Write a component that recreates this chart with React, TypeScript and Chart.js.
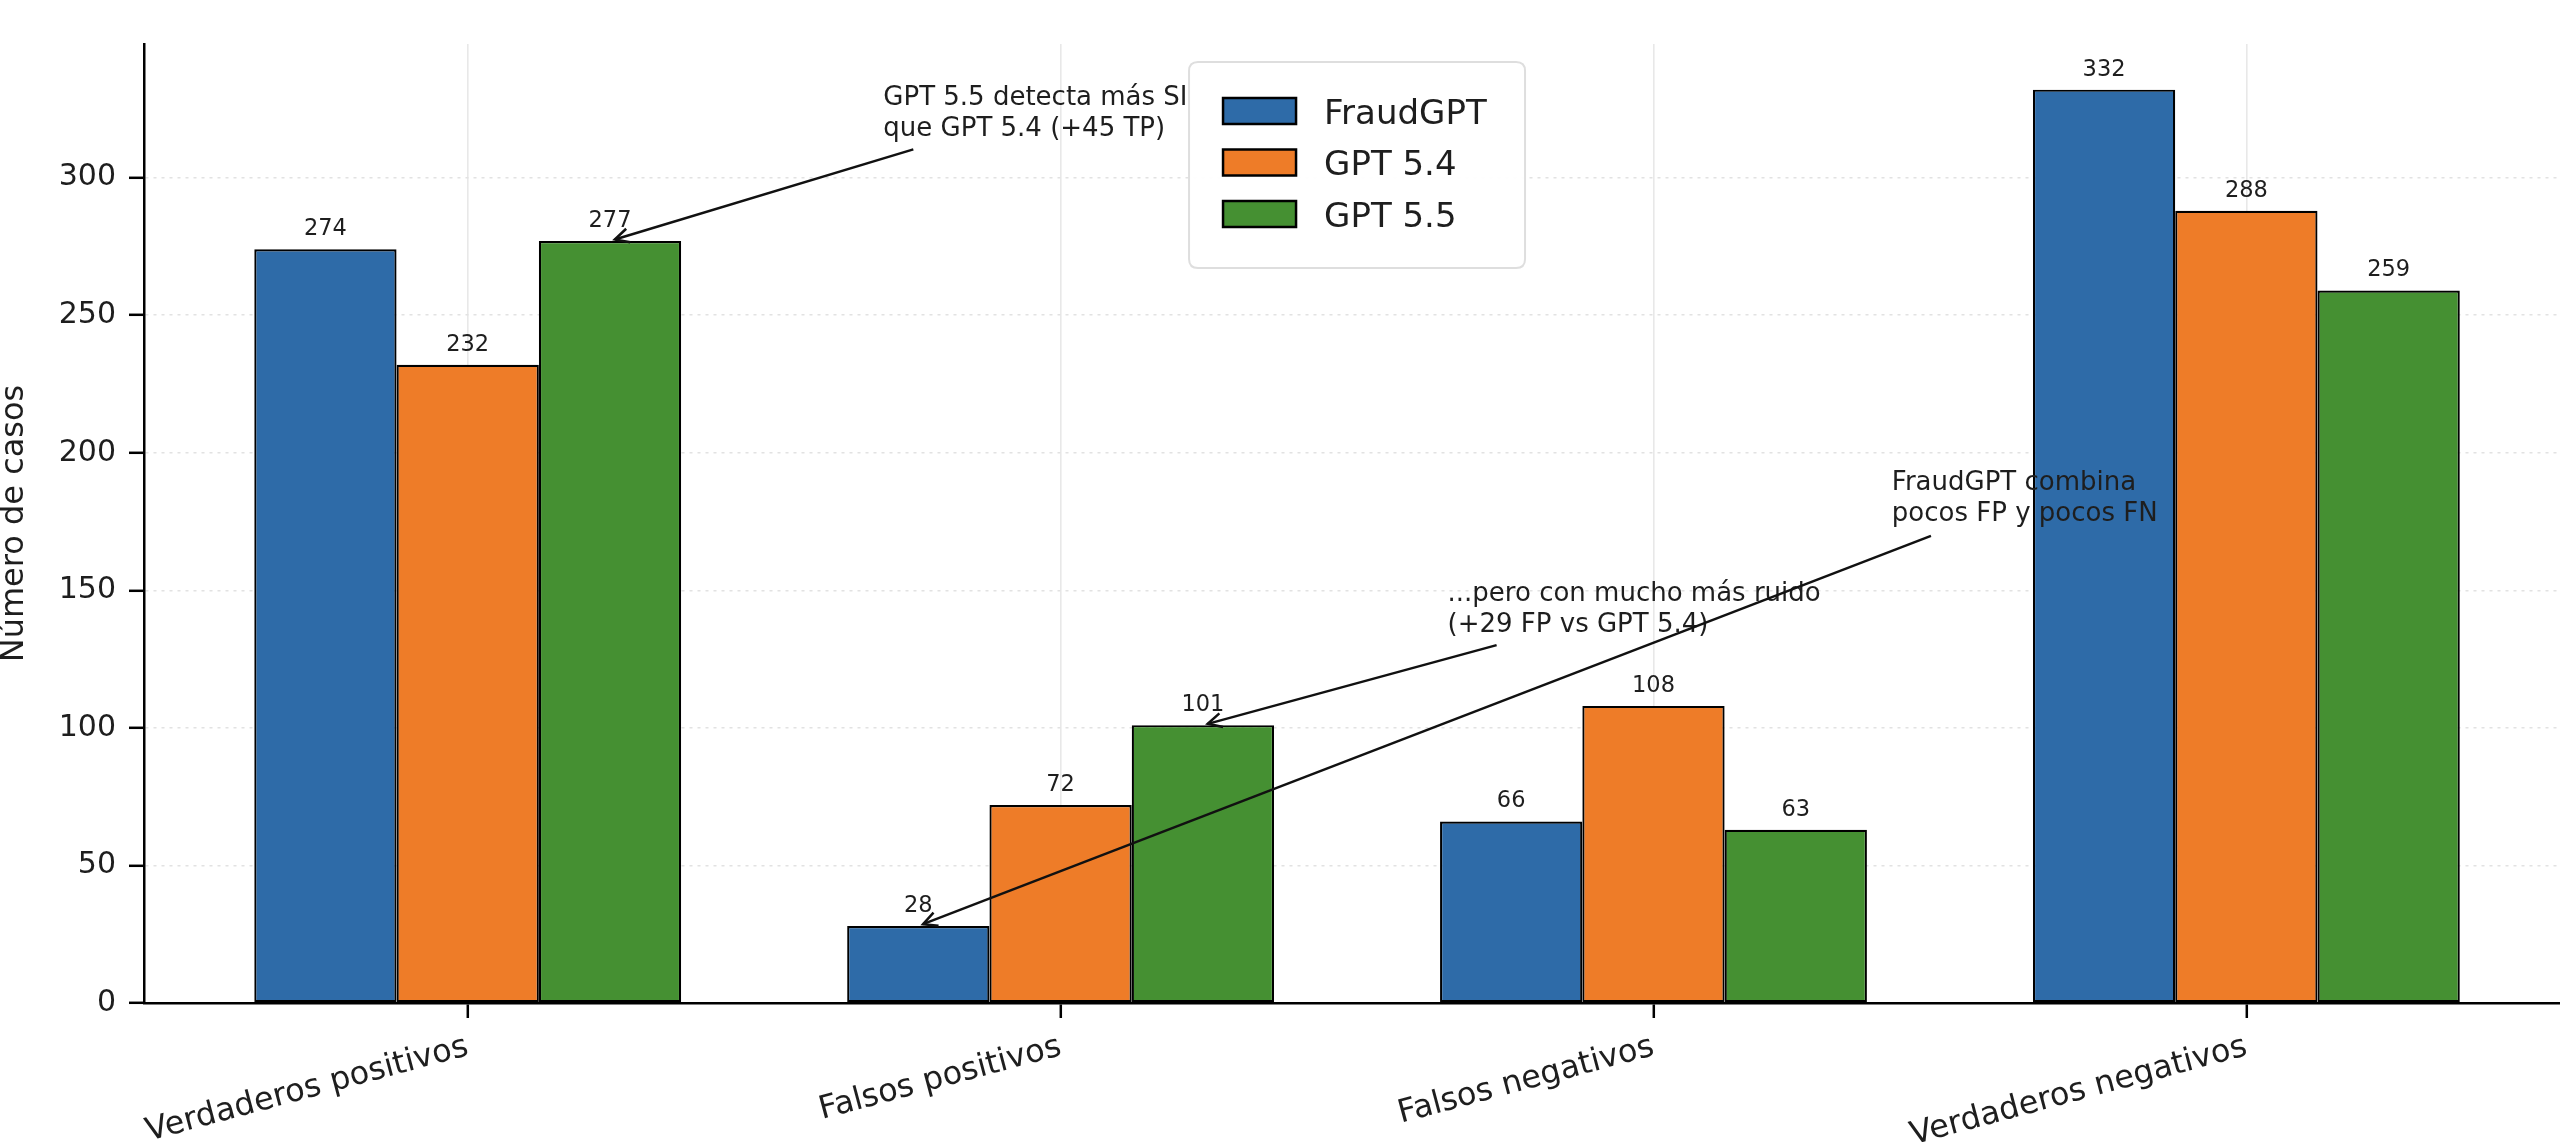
import { useEffect, useRef } from 'react';
import { Chart, registerables } from 'chart.js';

Chart.register(...registerables);

const CATEGORIES = ['Verdaderos positivos', 'Falsos positivos', 'Falsos negativos', 'Verdaderos negativos'];
const SERIES = ['FraudGPT', 'GPT 5.4', 'GPT 5.5'];
const FRAUDGPT = [274, 28, 66, 332];
const GPT54 = [232, 72, 108, 288];
const GPT55 = [277, 101, 63, 259];
const COLORS = ['#2e6ba8', '#ee7c28', '#459032'];
const Y_TICKS = [0, 50, 100, 150, 200, 250, 300];
const Y_MAX = 348.6;
const X_MIN = -0.546;
const X_MAX = 3.529;

// annotation text anchor (left x, first-line baseline y) and arrow start, in data units;
// arrow target = bar (series index, category index)
const ANNOTATIONS = [
  { lines: ['GPT 5.5 detecta más SI', 'que GPT 5.4 (+45 TP)'], text: [0.701, 326.4], from: [0.7516, 310.3], target: [2, 0] },
  { lines: ['...pero con mucho más ruido', '(+29 FP vs GPT 5.4)'], text: [1.6527, 146.1], from: [1.7354, 130.1], target: [2, 1] },
  { lines: ['FraudGPT combina', 'pocos FP y pocos FN'], text: [2.402, 186.5], from: [2.468, 169.8], target: [0, 1] },
];

const FONT = '"DejaVu Sans", "Liberation Sans", sans-serif';
const TEXT = '#1e1e1e';

function drawArrow(ctx: CanvasRenderingContext2D, x1: number, y1: number, x2: number, y2: number) {
  const dx = x2 - x1;
  const dy = y2 - y1;
  const len = Math.hypot(dx, dy);
  const ux = dx / len;
  const uy = dy / len;
  const shrink = 5;
  const tx = x2 - ux * shrink;
  const ty = y2 - uy * shrink;
  ctx.beginPath();
  ctx.moveTo(x1, y1);
  ctx.lineTo(tx, ty);
  ctx.stroke();
  const hl = 14;
  const hw = 7;
  const bx = tx - ux * hl;
  const by = ty - uy * hl;
  ctx.beginPath();
  ctx.moveTo(bx - uy * hw, by + ux * hw);
  ctx.lineTo(tx, ty);
  ctx.lineTo(bx + uy * hw, by - ux * hw);
  ctx.stroke();
}

function roundRect(ctx: CanvasRenderingContext2D, x: number, y: number, w: number, h: number, r: number) {
  ctx.beginPath();
  ctx.moveTo(x + r, y);
  ctx.lineTo(x + w - r, y);
  ctx.quadraticCurveTo(x + w, y, x + w, y + r);
  ctx.lineTo(x + w, y + h - r);
  ctx.quadraticCurveTo(x + w, y + h, x + w - r, y + h);
  ctx.lineTo(x + r, y + h);
  ctx.quadraticCurveTo(x, y + h, x, y + h - r);
  ctx.lineTo(x, y + r);
  ctx.quadraticCurveTo(x, y, x + r, y);
  ctx.closePath();
}

const overlayPlugin = {
  id: 'overlay',
  afterDatasetsDraw(chart: any) {
    const ctx: CanvasRenderingContext2D = chart.ctx;
    ctx.save();
    ctx.font = `22.5px ${FONT}`;
    ctx.fillStyle = TEXT;
    ctx.textAlign = 'center';
    ctx.textBaseline = 'alphabetic';
    chart.data.datasets.forEach((ds: any, di: number) => {
      chart.getDatasetMeta(di).data.forEach((bar: any, i: number) => {
        ctx.fillText(String(ds.data[i].y), bar.x, bar.y - 14);
      });
    });
    ctx.restore();
  },
  afterDraw(chart: any) {
    const ctx: CanvasRenderingContext2D = chart.ctx;
    const xs = chart.scales.x;
    const ys = chart.scales.y;
    // annotations
    ctx.save();
    ctx.font = `26px ${FONT}`;
    ctx.fillStyle = TEXT;
    ctx.strokeStyle = '#111';
    ctx.lineWidth = 2.5;
    ctx.textAlign = 'left';
    ctx.textBaseline = 'alphabetic';
    ANNOTATIONS.forEach((a) => {
      const tx = xs.getPixelForValue(a.text[0]);
      const ty = ys.getPixelForValue(a.text[1]);
      a.lines.forEach((line, li) => ctx.fillText(line, tx, ty + li * 31));
      const bar = chart.getDatasetMeta(a.target[0]).data[a.target[1]];
      drawArrow(ctx, xs.getPixelForValue(a.from[0]), ys.getPixelForValue(a.from[1]), bar.x, bar.y);
    });
    ctx.restore();

    // legend (upper center of the axes)
    const cx = xs.getPixelForValue(1.5);
    const w = 336;
    const h = 206;
    const lx = cx - w / 2;
    const ly = chart.chartArea.top + 18;
    ctx.save();
    roundRect(ctx, lx, ly, w, h, 9);
    ctx.fillStyle = 'rgba(255,255,255,0.95)';
    ctx.fill();
    ctx.strokeStyle = '#dedede';
    ctx.lineWidth = 2;
    ctx.stroke();
    ctx.font = `34px ${FONT}`;
    ctx.textBaseline = 'alphabetic';
    ctx.textAlign = 'left';
    chart.data.datasets.forEach((ds: any, i: number) => {
      const rc = ly + 49 + i * 51.5;
      ctx.fillStyle = ds.backgroundColor;
      ctx.fillRect(lx + 34, rc - 13, 73, 26);
      ctx.strokeStyle = '#000';
      ctx.lineWidth = 2.5;
      ctx.strokeRect(lx + 34, rc - 13, 73, 26);
      ctx.fillStyle = TEXT;
      ctx.fillText(ds.label, lx + 135, rc + 12.5);
    });
    ctx.restore();
  },
};

export default function App() {
  const ref = useRef<HTMLCanvasElement>(null);
  useEffect(() => {
    document.body.style.margin = '0';
    document.body.style.overflow = 'hidden';
    const values = [FRAUDGPT, GPT54, GPT55];
    const chart = new Chart(ref.current as HTMLCanvasElement, {
      type: 'bar',
      data: {
        datasets: SERIES.map((name, si) => ({
          label: name,
          data: values[si].map((v, i) => ({ x: i, y: v })),
          backgroundColor: COLORS[si],
          borderColor: '#000',
          borderWidth: 2.2,
          borderSkipped: false,
          categoryPercentage: 0.72,
          barPercentage: 1.0,
        })),
      },
      options: {
        animation: false,
        responsive: false,
        devicePixelRatio: 1,
        layout: { padding: { top: 44, left: 0, right: 0, bottom: 0 } },
        plugins: { legend: { display: false }, tooltip: { enabled: false } },
        scales: {
          x: {
            type: 'linear',
            min: X_MIN,
            max: X_MAX,
            offset: false,
            afterBuildTicks: (scale: any) => {
              scale.ticks = CATEGORIES.map((_, i) => ({ value: i }));
            },
            afterFit: (scale: any) => {
              scale.height = 139;
              scale.paddingLeft = 0;
              scale.paddingRight = 0;
            },
            ticks: {
              autoSkip: false,
              minRotation: 15,
              maxRotation: 15,
              padding: 10,
              color: TEXT,
              font: { family: FONT, size: 32 },
              callback: (v: any) => CATEGORIES[Math.round(Number(v))] ?? '',
            },
            grid: {
              offset: false,
              color: '#e8e8e8',
              lineWidth: 1.6,
              drawTicks: true,
              tickLength: 15,
              tickColor: '#000',
              tickWidth: 2.5,
            },
            border: { display: true, color: '#000', width: 2.5 },
          },
          y: {
            type: 'linear',
            min: 0,
            max: Y_MAX,
            afterBuildTicks: (scale: any) => {
              scale.ticks = Y_TICKS.map((v) => ({ value: v }));
            },
            afterFit: (scale: any) => {
              scale.width = 144;
              scale.paddingTop = 0;
              scale.paddingBottom = 0;
            },
            ticks: {
              padding: 13,
              color: TEXT,
              font: { family: FONT, size: 30 },
            },
            grid: {
              color: '#e2e2e2',
              lineWidth: 1.6,
              drawTicks: true,
              tickLength: 15,
              tickColor: '#000',
              tickWidth: 2.5,
            },
            border: { display: true, color: '#000', width: 2.5, dash: [3, 5] },
            title: {
              display: true,
              text: 'Número de casos',
              color: TEXT,
              padding: 0,
              font: { family: FONT, size: 32, lineHeight: 0.9 },
            },
          },
        },
      },
      plugins: [overlayPlugin],
    } as any);
    return () => chart.destroy();
  }, []);
  return (
    <div style={{ width: 2560, height: 1142, background: '#fff' }}>
      <canvas ref={ref} width={2560} height={1142} style={{ display: 'block' }} />
    </div>
  );
}
